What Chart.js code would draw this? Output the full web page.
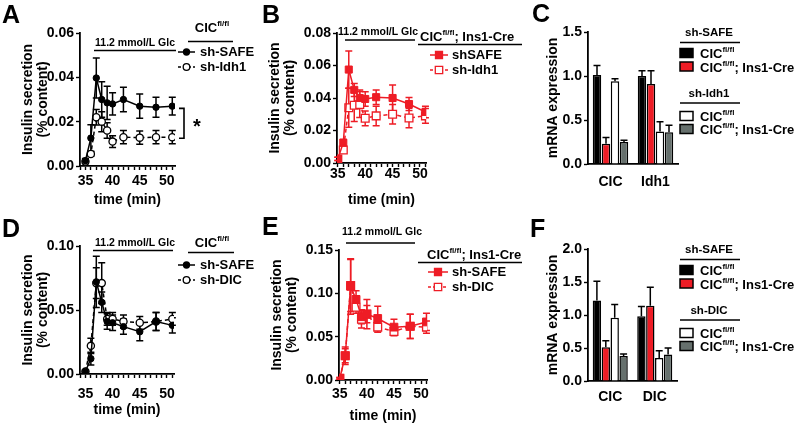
<!DOCTYPE html>
<html>
<head>
<meta charset="utf-8">
<script src="https://cdn.jsdelivr.net/npm/chart.js@4.4.1/dist/chart.umd.min.js"></script>
<style>
body { margin: 0; background: #fff; }
#fig { position: relative; width: 800px; height: 426px; overflow: hidden; background: #fff; }
.panel { position: absolute; }
</style>
</head>
<body>
<div id="fig">
  <div class="panel" style="left:0;top:0;width:260px;height:210px"><canvas id="panelA"></canvas></div>
  <div class="panel" style="left:260px;top:0;width:270px;height:210px"><canvas id="panelB"></canvas></div>
  <div class="panel" style="left:530px;top:0;width:270px;height:200px"><canvas id="panelC"></canvas></div>
  <div class="panel" style="left:0;top:200px;width:260px;height:226px"><canvas id="panelD"></canvas></div>
  <div class="panel" style="left:260px;top:200px;width:270px;height:226px"><canvas id="panelE"></canvas></div>
  <div class="panel" style="left:530px;top:200px;width:270px;height:226px"><canvas id="panelF"></canvas></div>
</div>
<script>
var FONT = "'Liberation Sans', Arial, Helvetica, sans-serif";
var RED = '#ee1c25';
var GRAY = '#66706d';

// time points (min)
var times = [35, 36, 37, 38, 39, 40, 42, 45, 48, 51];

// A: CIC fl/fl islets, sh-SAFE vs sh-Idh1
var aSafe    = [0.0024, 0.0126, 0.0397, 0.030, 0.0285, 0.028, 0.030, 0.027, 0.0265, 0.027];
var aSafeErr = [0.001, 0.006, 0.009, 0.008, 0.0075, 0.005, 0.0055, 0.0055, 0.0045, 0.004];
var aIdh1    = [0.002, 0.0054, 0.022, 0.020, 0.016, 0.011, 0.013, 0.0128, 0.013, 0.013];
var aIdh1Err = [0.001, 0.001, 0.0035, 0.0045, 0.0035, 0.0027, 0.003, 0.003, 0.003, 0.003];

// B: CIC fl/fl; Ins1-Cre, shSAFE vs sh-Idh1
var bSafe    = [0.0025, 0.0125, 0.0575, 0.045, 0.040, 0.0394, 0.0405, 0.040, 0.0363, 0.0314];
var bSafeErr = [0.001, 0.002, 0.0115, 0.004, 0.005, 0.0045, 0.0045, 0.008, 0.004, 0.0035];
var bIdh1    = [0.0025, 0.008, 0.034, 0.0355, 0.036, 0.0275, 0.029, 0.030, 0.0277, 0.029];
var bIdh1Err = [0.001, 0.0015, 0.012, 0.010, 0.008, 0.0045, 0.006, 0.006, 0.006, 0.0045];

// D: CIC fl/fl, sh-SAFE vs sh-DIC
var dSafe    = [0.002, 0.012, 0.072, 0.056, 0.041, 0.040, 0.037, 0.033, 0.041, 0.038];
var dSafeErr = [0.001, 0.005, 0.020, 0.008, 0.006, 0.006, 0.006, 0.007, 0.007, 0.006];
var dDic     = [0.002, 0.022, 0.071, 0.071, 0.043, 0.043, 0.041, 0.040, 0.041, 0.043];
var dDicErr  = [0.001, 0.006, 0.012, 0.016, 0.005, 0.005, 0.005, 0.005, 0.007, 0.005];

// E: CIC fl/fl; Ins1-Cre, sh-SAFE vs sh-DIC
var eSafe    = [0.002, 0.028, 0.108, 0.093, 0.073, 0.076, 0.071, 0.061, 0.062, 0.067];
var eSafeErr = [0.001, 0.010, 0.032, 0.010, 0.008, 0.010, 0.014, 0.009, 0.014, 0.010];
var eDic     = [0.002, 0.028, 0.109, 0.084, 0.070, 0.076, 0.061, 0.056, 0.062, 0.061];
var eDicErr  = [0.001, 0.008, 0.030, 0.007, 0.010, 0.017, 0.006, 0.005, 0.014, 0.007];

// C: mRNA expression, CIC and Idh1
var cGenes      = ['CIC', 'Idh1'];
var cSafeFl     = [1.01, 1.00];
var cSafeFlErr  = [0.11, 0.06];
var cSafeCre    = [0.23, 0.91];
var cSafeCreErr = [0.07, 0.15];
var cIdhFl      = [0.94, 0.37];
var cIdhFlErr   = [0.03, 0.11];
var cIdhCre     = [0.25, 0.36];
var cIdhCreErr  = [0.02, 0.08];

// F: mRNA expression, CIC and DIC
var fGenes      = ['CIC', 'DIC'];
var fSafeFl     = [1.22, 0.98];
var fSafeFlErr  = [0.29, 0.15];
var fSafeCre    = [0.51, 1.14];
var fSafeCreErr = [0.10, 0.28];
var fDicFl      = [0.96, 0.35];
var fDicFlErr   = [0.20, 0.11];
var fDicCre     = [0.38, 0.40];
var fDicCreErr  = [0.03, 0.10];

Chart.defaults.font.family = FONT;
Chart.defaults.font.size = 14;
Chart.defaults.font.weight = 'bold';
Chart.defaults.color = '#000';
Chart.defaults.animation = false;
Chart.defaults.plugins.legend.display = false;
Chart.defaults.plugins.tooltip.enabled = false;

function pts(xs, ys) {
  return xs.map(function (x, i) { return { x: x, y: ys[i] }; });
}

// error bars, drawn from the dataset values through the y scale
function drawErrors(chart, kind) {
  var ctx = chart.ctx, ys = chart.scales.y;
  chart.data.datasets.forEach(function (ds, i) {
    if (!ds.errors) return;
    var meta = chart.getDatasetMeta(i);
    if ((meta.type === 'bar') !== (kind === 'bar')) return;
    ctx.save();
    ctx.strokeStyle = ds.errColor || '#000';
    ctx.lineWidth = 1.5;
    meta.data.forEach(function (el, j) {
      var d = ds.data[j];
      var v = typeof d === 'object' ? d.y : d;
      var e = ds.errors[j];
      var top = ys.getPixelForValue(v + e);
      var bot = kind === 'bar' ? el.y : ys.getPixelForValue(v - e);
      ctx.beginPath();
      ctx.moveTo(el.x, top); ctx.lineTo(el.x, bot);
      ctx.moveTo(el.x - 3.5, top); ctx.lineTo(el.x + 3.5, top);
      if (kind !== 'bar') { ctx.moveTo(el.x - 3.5, bot); ctx.lineTo(el.x + 3.5, bot); }
      ctx.stroke();
    });
    ctx.restore();
  });
}
var errorBarPlugin = {
  id: 'errorBars',
  beforeDatasetsDraw: function (chart) { drawErrors(chart, 'line'); },
  afterDatasetsDraw: function (chart) { drawErrors(chart, 'bar'); }
};

function deco(fn) {
  return { id: 'deco', afterDraw: function (chart) { var c = chart.ctx; c.save(); fn(c, chart); c.restore(); } };
}

// text with superscript parts: parts = [[text, isSup], ...]
function rich(ctx, x, y, parts, size, align) {
  var sup = Math.round(size * 0.62);
  var w = 0;
  parts.forEach(function (p) {
    ctx.font = 'bold ' + (p[1] ? sup : size) + 'px ' + FONT;
    w += ctx.measureText(p[0]).width;
  });
  var cx = align === 'center' ? x - w / 2 : x;
  ctx.fillStyle = '#000';
  ctx.textAlign = 'left';
  ctx.textBaseline = 'alphabetic';
  parts.forEach(function (p) {
    ctx.font = 'bold ' + (p[1] ? sup : size) + 'px ' + FONT;
    ctx.fillText(p[0], cx, p[1] ? y - size * 0.45 : y);
    cx += ctx.measureText(p[0]).width;
  });
}

function text(ctx, s, x, y, size, align, base) {
  ctx.font = 'bold ' + size + 'px ' + FONT;
  ctx.fillStyle = '#000';
  ctx.textAlign = align || 'left';
  ctx.textBaseline = base || 'middle';
  ctx.fillText(s, x, y);
}

function hline(ctx, x1, x2, y, w, color) {
  ctx.beginPath();
  ctx.strokeStyle = color || '#000';
  ctx.lineWidth = w || 1.6;
  ctx.setLineDash([]);
  ctx.moveTo(x1, y); ctx.lineTo(x2, y);
  ctx.stroke();
}

// legend key: short line + marker
function lineKey(ctx, x1, x2, y, color, dashed, shape, open, r) {
  ctx.beginPath();
  ctx.strokeStyle = color;
  ctx.lineWidth = 1.5;
  ctx.setLineDash(dashed ? [3, 2] : []);
  ctx.moveTo(x1, y); ctx.lineTo(x2, y);
  ctx.stroke();
  ctx.setLineDash([]);
  var mx = (x1 + x2) / 2;
  ctx.beginPath();
  if (shape === 'rect') ctx.rect(mx - r, y - r, 2 * r, 2 * r);
  else ctx.arc(mx, y, r, 0, Math.PI * 2);
  ctx.fillStyle = open ? '#fff' : color;
  ctx.fill();
  ctx.lineWidth = 1.3;
  ctx.stroke();
}

function boxKey(ctx, x, y, fill) {
  ctx.fillStyle = fill;
  ctx.fillRect(x, y - 4.5, 13, 9);
  ctx.strokeStyle = '#000';
  ctx.lineWidth = 1.5;
  ctx.strokeRect(x, y - 4.5, 13, 9);
}

function lineChart(id, cfg) {
  return new Chart(document.getElementById(id), {
    type: 'line',
    data: { datasets: cfg.datasets },
    options: {
      responsive: true,
      maintainAspectRatio: false,
      layout: { padding: cfg.pad },
      scales: {
        x: {
          type: 'linear', min: cfg.xMin, max: cfg.xMax,
          afterFit: function (s) { s.height = cfg.xH; },
          border: { color: '#000', width: 1.8 },
          grid: { drawOnChartArea: false, tickLength: 4, color: '#000', tickWidth: 1.4 },
          ticks: {
            stepSize: 1, autoSkip: false, maxRotation: 0, includeBounds: false, padding: cfg.xPad,
            font: { size: 14, weight: 'bold' },
            callback: function (v) { return v % 5 === 0 ? String(v) : ''; }
          },
          title: { display: true, text: 'time (min)', padding: 0, font: { size: 14, weight: 'bold', lineHeight: 1.2 } }
        },
        y: {
          min: 0, max: cfg.yMax,
          afterFit: function (s) { s.width = cfg.yW; },
          border: { color: '#000', width: 1.8 },
          grid: { drawOnChartArea: false, tickLength: 4, color: '#000', tickWidth: 1.4 },
          ticks: {
            stepSize: cfg.yStep, padding: 2, font: { size: 14, weight: 'bold' },
            callback: function (v) { return v.toFixed(2); }
          },
          title: { display: true, text: ['Insulin secretion', '(% content)'], padding: 0, font: { size: 14, weight: 'bold', lineHeight: 1.1 } }
        }
      }
    },
    plugins: [errorBarPlugin, deco(cfg.deco)]
  });
}

function barChart(id, cfg) {
  return new Chart(document.getElementById(id), {
    type: 'bar',
    data: { labels: cfg.labels, datasets: cfg.datasets },
    options: {
      responsive: true,
      maintainAspectRatio: false,
      layout: { padding: cfg.pad },
      datasets: { bar: { categoryPercentage: 0.8, barPercentage: 0.94, borderColor: '#000', borderWidth: 1.5 } },
      scales: {
        x: {
          afterFit: function (s) { s.height = cfg.xH; },
          border: { color: '#000', width: 1.8 },
          grid: { display: false, drawTicks: false },
          ticks: { padding: cfg.xPad, font: { size: 14, weight: 'bold' } }
        },
        y: {
          min: 0, max: cfg.yMax,
          afterFit: function (s) { s.width = cfg.yW; },
          border: { color: '#000', width: 1.8 },
          grid: { drawOnChartArea: false, tickLength: 4, color: '#000', tickWidth: 1.4 },
          ticks: {
            stepSize: 0.5, padding: 2, font: { size: 14, weight: 'bold' },
            callback: function (v) { return v.toFixed(1); }
          },
          title: { display: true, text: 'mRNA expression', padding: 0, font: { size: 14, weight: 'bold', lineHeight: 1.2 } }
        }
      }
    },
    plugins: [errorBarPlugin, deco(cfg.deco)]
  });
}

function solidSeries(data, err, color, shape, r) {
  return {
    data: data, errors: err, errColor: color,
    borderColor: color, backgroundColor: color, borderWidth: 1.5,
    pointStyle: shape, pointRadius: r, pointBackgroundColor: color, pointBorderColor: color, pointBorderWidth: 1
  };
}
function openSeries(data, err, color, shape, r) {
  return {
    data: data, errors: err, errColor: color,
    borderColor: color, backgroundColor: '#fff', borderWidth: 1.5, borderDash: [4, 3],
    pointStyle: shape, pointRadius: r, pointBackgroundColor: '#fff', pointBorderColor: color, pointBorderWidth: 1.3
  };
}

// bar legend: group header, rule, two boxes
function barLegend(ctx, top, group) {
  text(ctx, 'sh-SAFE', 179, top, 11.5, 'center');
  hline(ctx, 150, 210, top + 9.5);
  boxKey(ctx, 150, top + 20, '#000');
  rich(ctx, 170, top + 25, [['CIC', false], ['fl/fl', true]], 13, 'left');
  boxKey(ctx, 150, top + 33.5, RED);
  rich(ctx, 170, top + 38.5, [['CIC', false], ['fl/fl', true], ['; Ins1-Cre', false]], 13, 'left');
  text(ctx, group, 179, top + 61, 11.5, 'center');
  hline(ctx, 150, 210, top + 70);
  boxKey(ctx, 150, top + 83, '#fff');
  rich(ctx, 170, top + 88, [['CIC', false], ['fl/fl', true]], 13, 'left');
  boxKey(ctx, 150, top + 96, GRAY);
  rich(ctx, 170, top + 101, [['CIC', false], ['fl/fl', true], ['; Ins1-Cre', false]], 13, 'left');
}

// ---- A ----
lineChart('panelA', {
  pad: { left: 20, top: 33, right: 85, bottom: 1.6 }, yW: 60, xH: 42.4, xPad: 3,
  xMin: 34, xMax: 51.5, yMax: 0.06, yStep: 0.02,
  datasets: [
    solidSeries(pts(times, aSafe), aSafeErr, '#000', 'circle', 3.2),
    openSeries(pts(times, aIdh1), aIdh1Err, '#000', 'circle', 3.6)
  ],
  deco: function (ctx, chart) {
    var y = chart.scales.y;
    text(ctx, 'A', 2, 23, 25, 'left', 'alphabetic');
    text(ctx, '11.2 mmol/L Glc', 135, 43, 10.5, 'center');
    hline(ctx, 94, 176, 50.5);
    rich(ctx, 212, 32, [['CIC', false], ['fl/fl', true]], 13, 'center');
    hline(ctx, 188, 233, 41.5);
    lineKey(ctx, 178, 195, 52, '#000', false, 'circle', false, 3);
    text(ctx, 'sh-SAFE', 200, 52, 13);
    lineKey(ctx, 178, 195, 67, '#000', true, 'circle', true, 3.3);
    text(ctx, 'sh-Idh1', 200, 67, 13);
    var t = y.getPixelForValue(0.026), b = y.getPixelForValue(0.0125);
    ctx.beginPath();
    ctx.strokeStyle = '#000'; ctx.lineWidth = 1.6;
    ctx.moveTo(179, t); ctx.lineTo(184, t); ctx.lineTo(184, b); ctx.lineTo(179, b);
    ctx.stroke();
    text(ctx, '*', 197, (t + b) / 2 + 4, 20, 'center');
  }
});

// ---- B ----
lineChart('panelB', {
  pad: { left: 7, top: 33, right: 104, bottom: 1.6 }, yW: 70, xH: 45.4, xPad: -1,
  xMin: 34.85, xMax: 51.1, yMax: 0.08, yStep: 0.02,
  datasets: [
    solidSeries(pts(times, bSafe), bSafeErr, RED, 'rect', 5),
    openSeries(pts(times, bIdh1), bIdh1Err, RED, 'rect', 5.5)
  ],
  deco: function (ctx) {
    text(ctx, 'B', 2, 23, 25, 'left', 'alphabetic');
    text(ctx, '11.2 mmol/L Glc', 118, 32, 10.5, 'center');
    hline(ctx, 85, 155, 40);
    rich(ctx, 160, 41, [['CIC', false], ['fl/fl', true], ['; Ins1-Cre', false]], 13, 'left');
    hline(ctx, 158, 262, 44.5);
    lineKey(ctx, 170, 188, 55, RED, false, 'rect', false, 3.5);
    text(ctx, 'shSAFE', 192, 55, 13);
    lineKey(ctx, 170, 188, 70, RED, true, 'rect', true, 3.7);
    text(ctx, 'sh-Idh1', 192, 70, 13);
  }
});

// ---- C ----
barChart('panelC', {
  pad: { left: 15, top: 32, right: 122, bottom: 0 }, yW: 43, xH: 36, xPad: 10, yMax: 1.5,
  labels: cGenes,
  datasets: [
    { data: cSafeFl, errors: cSafeFlErr, backgroundColor: '#000' },
    { data: cSafeCre, errors: cSafeCreErr, backgroundColor: RED },
    { data: cIdhFl, errors: cIdhFlErr, backgroundColor: '#fff' },
    { data: cIdhCre, errors: cIdhCreErr, backgroundColor: GRAY }
  ],
  deco: function (ctx) {
    text(ctx, 'C', 2, 22, 25, 'left', 'alphabetic');
    barLegend(ctx, 33, 'sh-Idh1');
  }
});

// ---- D ----
lineChart('panelD', {
  pad: { left: 20, top: 46, right: 86, bottom: 7.6 }, yW: 60, xH: 44.4, xPad: 7.6,
  xMin: 34, xMax: 51.3, yMax: 0.10, yStep: 0.05,
  datasets: [
    solidSeries(pts(times, dSafe), dSafeErr, '#000', 'circle', 3.2),
    openSeries(pts(times, dDic), dDicErr, '#000', 'circle', 3.6)
  ],
  deco: function (ctx) {
    text(ctx, 'D', 2, 37, 25, 'left', 'alphabetic');
    text(ctx, '11.2 mmol/L Glc', 135, 43, 10.5, 'center');
    hline(ctx, 93, 173, 50.5);
    rich(ctx, 212, 47, [['CIC', false], ['fl/fl', true]], 13, 'center');
    hline(ctx, 188, 234, 52.5);
    lineKey(ctx, 178, 195, 65, '#000', false, 'circle', false, 3);
    text(ctx, 'sh-SAFE', 200, 65, 13);
    lineKey(ctx, 178, 195, 80, '#000', true, 'circle', true, 3.3);
    text(ctx, 'sh-DIC', 200, 80, 13);
  }
});

// ---- E ----
lineChart('panelE', {
  pad: { left: 9, top: 50, right: 103, bottom: 1.6 }, yW: 70, xH: 44.4, xPad: 1.6,
  xMin: 34.85, xMax: 51.1, yMax: 0.15, yStep: 0.05,
  datasets: [
    solidSeries(pts(times, eSafe), eSafeErr, RED, 'rect', 5.5),
    openSeries(pts(times, eDic), eDicErr, RED, 'rect', 5.5)
  ],
  deco: function (ctx) {
    text(ctx, 'E', 2, 35, 25, 'left', 'alphabetic');
    text(ctx, '11.2 mmol/L Glc', 122, 32, 10.5, 'center');
    hline(ctx, 86, 155, 43);
    rich(ctx, 167, 59, [['CIC', false], ['fl/fl', true], ['; Ins1-Cre', false]], 13, 'left');
    hline(ctx, 158, 262, 62.5);
    lineKey(ctx, 168, 188, 72, RED, false, 'rect', false, 3.5);
    text(ctx, 'sh-SAFE', 192, 72, 13);
    lineKey(ctx, 168, 188, 87, RED, true, 'rect', true, 3.7);
    text(ctx, 'sh-DIC', 192, 87, 13);
  }
});

// ---- F ----
barChart('panelF', {
  pad: { left: 15, top: 49, right: 123, bottom: 0 }, yW: 43, xH: 45, xPad: 8, yMax: 2.0,
  labels: fGenes,
  datasets: [
    { data: fSafeFl, errors: fSafeFlErr, backgroundColor: '#000' },
    { data: fSafeCre, errors: fSafeCreErr, backgroundColor: RED },
    { data: fDicFl, errors: fDicFlErr, backgroundColor: '#fff' },
    { data: fDicCre, errors: fDicCreErr, backgroundColor: GRAY }
  ],
  deco: function (ctx) {
    text(ctx, 'F', 0, 37, 25, 'left', 'alphabetic');
    barLegend(ctx, 50, 'sh-DIC');
  }
});
</script>
</body>
</html>
